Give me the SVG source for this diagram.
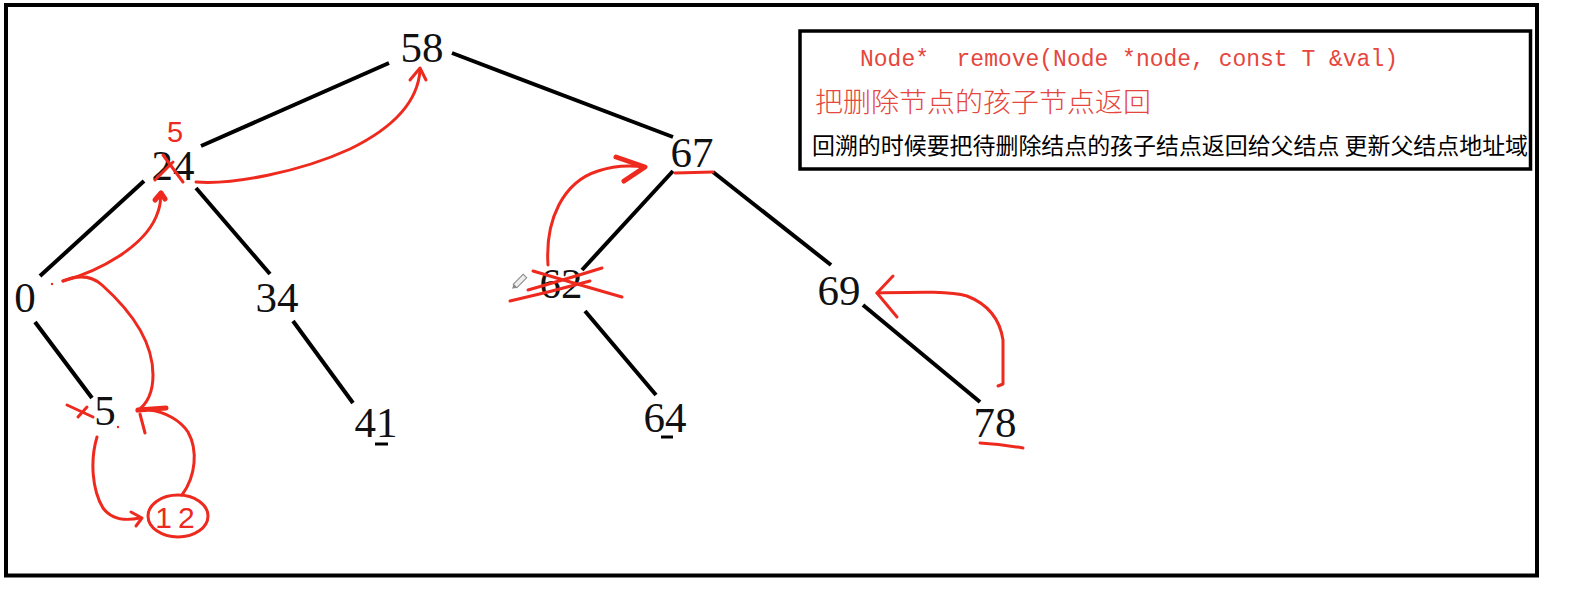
<svg xmlns="http://www.w3.org/2000/svg" width="1583" height="591" viewBox="0 0 1583 591">
<style>
.bg{fill:#fff}
.frame{fill:none;stroke:#000;stroke-width:4}
.box{fill:none;stroke:#000;stroke-width:3.5}
.edge{stroke:#000;stroke-width:4;stroke-linecap:butt;fill:none}
.lbl{font-family:"Liberation Serif","Times New Roman",serif;font-size:43px;fill:#111;text-anchor:middle}
.red{stroke:#ee2a1f;stroke-width:3;fill:none;stroke-linecap:round;stroke-linejoin:round}
.redthick{stroke:#ee2a1f;stroke-width:5;fill:none;stroke-linecap:round;stroke-linejoin:round}
.redtxt{font-family:"Liberation Sans",Arial,sans-serif;fill:#ee2a1f}
.code{font-family:"Liberation Mono","Courier New",monospace;font-size:23px;fill:#e5463d}
.cn-red{font-family:"Noto Sans CJK SC","Noto Sans",sans-serif;font-size:27px;fill:#e5463d;font-weight:300}
.cn-black{font-family:"Noto Sans CJK SC","Noto Sans",sans-serif;font-size:22.5px;fill:#000}
.uline{stroke:#000;stroke-width:3}
</style>
<rect class="bg" x="0" y="0" width="1583" height="591"/>
<rect class="frame" x="6" y="5" width="1531" height="570.5"/>

<g id="notes">
  <rect class="box" x="800" y="31" width="730.5" height="138"/>
  <text class="code" x="860" y="66" textLength="538" lengthAdjust="spacingAndGlyphs" xml:space="preserve">Node*  remove(Node *node, const T &amp;val)</text>
  <text class="cn-red" x="815" y="112" textLength="336" lengthAdjust="spacingAndGlyphs">把删除节点的孩子节点返回</text>
  <text class="cn-black" x="812" y="154" textLength="716" lengthAdjust="spacingAndGlyphs" xml:space="preserve">回溯的时候要把待删除结点的孩子结点返回给父结点 更新父结点地址域</text>
</g>

<g id="connectors">
  <line class="edge" x1="389" y1="63" x2="201" y2="146"/>
  <line class="edge" x1="452" y1="53" x2="673" y2="137"/>
  <line class="edge" x1="144" y1="181" x2="40" y2="276"/>
  <line class="edge" x1="196" y1="188" x2="270" y2="274"/>
  <line class="edge" x1="35" y1="322" x2="92" y2="398"/>
  <line class="edge" x1="293" y1="321" x2="353" y2="403"/>
  <line class="edge" x1="673" y1="171" x2="582" y2="270"/>
  <line class="edge" x1="713" y1="172" x2="831" y2="265"/>
  <line class="edge" x1="585" y1="311" x2="656" y2="395"/>
  <line class="edge" x1="863" y1="305" x2="980" y2="402"/>
</g>

<g id="n58"><text class="lbl" x="422" y="62">58</text></g>
<g id="n24"><text class="lbl" x="173" y="180">24</text></g>
<g id="n67"><text class="lbl" x="692" y="167">67</text></g>
<g id="n0"><text class="lbl" x="25" y="312">0</text></g>
<g id="n34"><text class="lbl" x="277" y="312">34</text></g>
<g id="n62"><text class="lbl" x="561" y="298">62</text></g>
<g id="n69"><text class="lbl" x="839" y="305">69</text></g>
<g id="n5"><text class="lbl" x="105" y="425">5</text></g>
<g id="n41"><text class="lbl" x="376" y="437">41</text><line class="uline" x1="375" y1="444" x2="388" y2="444"/></g>
<g id="n64"><text class="lbl" x="665" y="432">64</text><line class="uline" x1="661" y1="437" x2="673" y2="437"/></g>
<g id="n78"><text class="lbl" x="995" y="437">78</text></g>

<g id="annotations">
  <text class="redtxt" x="175" y="142" font-size="29" text-anchor="middle">5</text>
  <path class="red" d="M163,155 L183,182 M155,180 L173,162"/>
  <path class="red" d="M196,182 C232,185 300,172 350,149 C393,128 418,102 420,70"/>
  <path class="red" d="M410,80 L420,68 L426,80"/>
  <path class="red" d="M63,281 C100,271 143,247 156,217 C161,205 161,199 160,195"/>
  <path class="redthick" d="M155,200 L161,193 L165,199"/>
  <path class="red" d="M63,281 C75,276 90,274 102,285 C130,310 153,340 153,375 C153,395 146,405 137,411"/>
  <path class="redthick" d="M138,410 L166,408"/>
  <path class="red" d="M140,414 L145,433"/>
  <circle cx="52" cy="284" r="1.2" fill="#ee2a1f"/>
  <circle cx="118" cy="427" r="1.2" fill="#ee2a1f"/>
  <path class="red" d="M67,405 L93,417 M78,417 L87,407"/>
  <path class="red" d="M97,437 C90,460 92,490 103,508 C112,520 125,521 140,518"/>
  <path class="red" d="M131,512 L142,518 L136,526"/>
  <path class="red" d="M182,495 C196,476 198,450 188,432 C180,420 165,412 150,410"/>
  <ellipse class="red" cx="178" cy="516" rx="30" ry="21"/>
  <text class="redtxt" x="178" y="528" font-size="30" text-anchor="middle" letter-spacing="6">12</text>
  <path class="red" d="M510,301 Q550,292 590,281"/>
  <path class="red" d="M533,271 Q580,285 622,297"/>
  <path class="red" d="M528,290 Q570,278 602,268"/>
  <path class="red" d="M548,265 C545,220 563,182 598,171 C615,165 630,165 645,167"/>
  <path class="redthick" d="M616,157 L645,167 L624,181"/>
  <line class="red" x1="675" y1="173" x2="713" y2="172"/>
  <g transform="translate(520,281) rotate(-45)">
    <rect x="-7" y="-2.5" width="14" height="5" fill="#eee" stroke="#888" stroke-width="1"/>
    <path d="M-7,-2.5 L-11,0 L-7,2.5 Z" fill="#888"/>
  </g>
  <path class="red" d="M998,386 L1003,384 L1003,340 C1000,320 990,305 967,296 C950,291 920,292 877,293"/>
  <path class="red" d="M893,276 L877,293 L897,317"/>
  <path class="red" d="M980,443 Q1000,444 1023,448"/>
</g>
</svg>
